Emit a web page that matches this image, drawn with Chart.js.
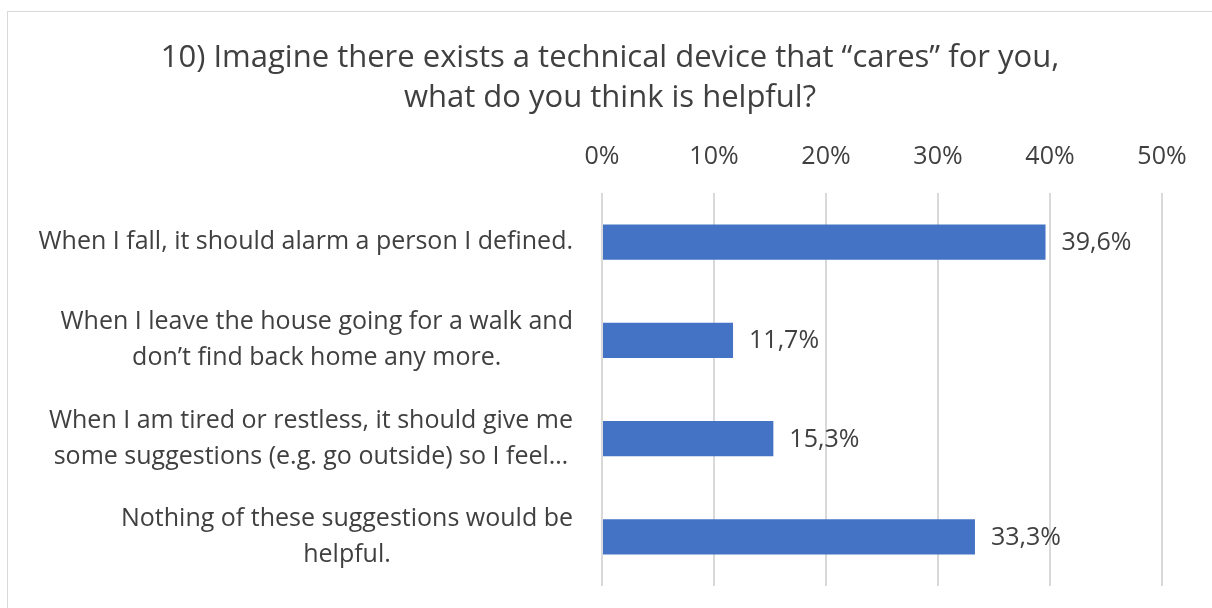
<!DOCTYPE html>
<html>
<head>
<meta charset="utf-8">
<script src="https://cdn.jsdelivr.net/npm/chart.js@4.4.1/dist/chart.umd.min.js"></script>
<style>
  html, body { margin: 0; padding: 0; background: #fff; overflow: hidden; }
  #frame { position: absolute; left: 7px; top: 11px; width: 1220px; height: 620px; border: 1.5px solid #d9d9d9; box-sizing: border-box; }
  #wrap { position: absolute; left: 0; top: 0; width: 1212px; height: 608px; }
</style>
</head>
<body>
<div id="frame"></div>
<div id="wrap"><canvas id="mychart" width="1212" height="608"></canvas></div>
<script>
// answers (split into the lines they are shown on)
var answers = [
    ['When I fall, it should alarm a person I defined.'],
    ['When I leave the house going for a walk and', 'don\u2019t find back home any more.'],
    ['When I am tired or restless, it should give me', 'some suggestions (e.g. go outside) so I feel\u2026'],
    ['Nothing of these suggestions would be', 'helpful.']
];
var shares = [39.6, 11.7, 15.3, 33.3]; // percent of respondents
var xTicks = [0, 10, 20, 30, 40, 50];

var textColor = '#404040';
var fontFam = '"Open Sans", Lato, sans-serif';
var labelSize = 25;

function pct(v) {
    return v.toFixed(1).replace('.', ',') + '%';
}

// category names: lines centred on each other, block right-aligned to the axis
var answerLabels = {
    id: 'answerLabels',
    afterDraw: function(chart) {
        var ctx = chart.ctx;
        var ys = chart.scales.y;
        var right = chart.chartArea.left - 29;
        var lh = 36;
        ctx.save();
        ctx.font = labelSize + 'px ' + fontFam;
        ctx.fillStyle = textColor;
        ctx.textAlign = 'center';
        ctx.textBaseline = 'middle';
        answers.forEach(function(lines, i) {
            var w = 0;
            lines.forEach(function(t){ w = Math.max(w, ctx.measureText(t).width); });
            var cx = right - w / 2;
            var y0 = ys.getPixelForValue(i) - (lines.length - 1) * lh / 2;
            lines.forEach(function(t, j){ ctx.fillText(t, cx, y0 + j * lh); });
        });
        ctx.restore();
    }
};

// value labels at the end of the bars
var valueLabels = {
    id: 'valueLabels',
    afterDatasetsDraw: function(chart) {
        var ctx = chart.ctx;
        var meta = chart.getDatasetMeta(0);
        ctx.save();
        ctx.font = labelSize + 'px ' + fontFam;
        ctx.fillStyle = textColor;
        ctx.textAlign = 'left';
        ctx.textBaseline = 'middle';
        meta.data.forEach(function(bar, i) {
            ctx.fillText(pct(shares[i]), bar.x + 16, bar.y + 1);
        });
        ctx.restore();
    }
};

var config = {
    type: 'bar',
    data: {
        labels: answers.map(function(a){ return a.join(' '); }),
        datasets: [{
            data: shares,
            backgroundColor: '#4472C4',
            borderWidth: 0,
            categoryPercentage: 1,
            barPercentage: 0.36
        }]
    },
    options: {
        indexAxis: 'y',
        responsive: false,
        animation: false,
        layout: { padding: { left: 58, right: 50, top: 0, bottom: 22 } },
        plugins: {
            legend: { display: false },
            tooltip: { enabled: false },
            title: {
                display: true,
                text: ['10) Imagine there exists a technical device that \u201ccares\u201d for you,', 'what do you think is helpful?'],
                color: textColor,
                font: { family: fontFam, size: 31, weight: 'normal', lineHeight: 1.29 },
                padding: { top: 38, bottom: 3 }
            }
        },
        scales: {
            x: {
                position: 'top',
                min: xTicks[0],
                max: xTicks[xTicks.length - 1],
                ticks: {
                    stepSize: 10,
                    padding: 21,
                    color: textColor,
                    font: { family: fontFam, size: labelSize },
                    callback: function(v){ return v + '%'; }
                },
                grid: { color: '#d9d9d9', lineWidth: 2, drawTicks: false },
                border: { display: false }
            },
            y: {
                ticks: { display: false },
                grid: { display: false },
                border: { display: false },
                afterFit: function(scale){ scale.width = 544; }
            }
        }
    },
    plugins: [answerLabels, valueLabels]
};

var ctx = document.getElementById('mychart').getContext('2d');
window.myBar = new Chart(ctx, config);
</script>
</body>
</html>
